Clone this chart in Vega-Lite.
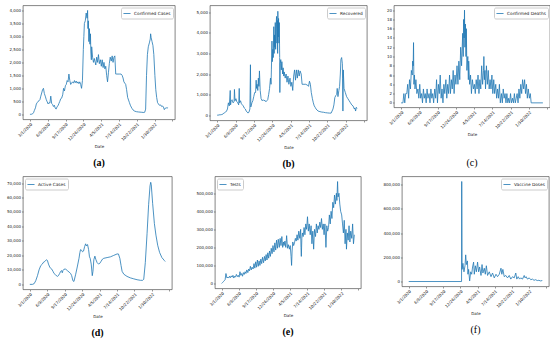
{
"$schema": "https://vega.github.io/schema/vega-lite/v6.json",
"padding": {"left": 0, "top": 4.5, "right": 0, "bottom": 0},
"config": {
  "font": "DejaVu Sans",
  "view": {"stroke": "#333", "strokeWidth": 0.6},
  "axis": {"grid": false, "domain": false, "tickSize": 1.5, "tickWidth": 0.5, "tickColor": "#333", "labelFontSize": 4, "labelColor": "#222", "labelPadding": 1, "titleFontSize": 4, "titleFontWeight": "normal", "titleColor": "#222", "labelFont": "DejaVu Sans", "titleFont": "DejaVu Sans", "labelOverlap": false, "labelFlush": false},
  "axisX": {"labelAngle": -45, "labelAlign": "right", "labelBaseline": "top", "titlePadding": 3},
  "legend": {"symbolType": "stroke", "symbolSize": 50, "symbolStrokeWidth": 1, "labelFontSize": 4.3, "labelColor": "#222", "padding": 2, "strokeColor": "#ccc", "fillColor": "white", "cornerRadius": 1.5, "offset": 2, "labelOffset": 3, "labelFont": "DejaVu Sans"},
  "title": {"font": "Liberation Serif", "fontSize": 10, "color": "black", "anchor": "middle", "frame": "group"},
  "line": {"strokeWidth": 0.8}
},
"datasets": {
"cases": [
{"date":"2020-03-01","value":0},{"date":"2020-03-06","value":0},{"date":"2020-03-11","value":5},{"date":"2020-03-16","value":20},{"date":"2020-03-21","value":60},{"date":"2020-03-26","value":150},
{"date":"2020-04-01","value":250},{"date":"2020-04-06","value":400},{"date":"2020-04-11","value":450},{"date":"2020-04-16","value":500},{"date":"2020-04-21","value":520},{"date":"2020-04-26","value":560},
{"date":"2020-05-01","value":700},{"date":"2020-05-06","value":820},{"date":"2020-05-11","value":950},{"date":"2020-05-16","value":1000},{"date":"2020-05-21","value":800},{"date":"2020-05-26","value":700},
{"date":"2020-06-01","value":560},{"date":"2020-06-06","value":480},{"date":"2020-06-11","value":400},{"date":"2020-06-16","value":450},{"date":"2020-06-21","value":430},{"date":"2020-06-26","value":700},
{"date":"2020-07-01","value":420},{"date":"2020-07-06","value":380},{"date":"2020-07-11","value":300},{"date":"2020-07-16","value":350},{"date":"2020-07-21","value":240},{"date":"2020-07-26","value":200},
{"date":"2020-08-01","value":300},{"date":"2020-08-06","value":330},{"date":"2020-08-11","value":420},{"date":"2020-08-16","value":500},{"date":"2020-08-21","value":600},{"date":"2020-08-26","value":620},
{"date":"2020-09-01","value":750},{"date":"2020-09-06","value":1000},{"date":"2020-09-11","value":900},{"date":"2020-09-16","value":1100},{"date":"2020-09-21","value":1150},{"date":"2020-09-26","value":1300},
{"date":"2020-10-01","value":1250},{"date":"2020-10-06","value":1550},{"date":"2020-10-11","value":1300},{"date":"2020-10-16","value":1150},{"date":"2020-10-21","value":1200},{"date":"2020-10-26","value":1250},
{"date":"2020-11-01","value":1200},{"date":"2020-11-06","value":1300},{"date":"2020-11-11","value":1220},{"date":"2020-11-16","value":1280},{"date":"2020-11-21","value":1200},{"date":"2020-11-26","value":1250},
{"date":"2020-12-01","value":1180},{"date":"2020-12-06","value":1250},{"date":"2020-12-11","value":1150},{"date":"2020-12-16","value":1000},{"date":"2020-12-21","value":1300},{"date":"2020-12-26","value":2500},{"date":"2020-12-29","value":3000},
{"date":"2021-01-01","value":3500},{"date":"2021-01-06","value":3600},{"date":"2021-01-11","value":3900},{"date":"2021-01-16","value":3700},{"date":"2021-01-19","value":4000},{"date":"2021-01-21","value":3300},{"date":"2021-01-23","value":3600},{"date":"2021-01-26","value":2800},{"date":"2021-01-29","value":3300},
{"date":"2021-02-01","value":2700},{"date":"2021-02-04","value":3100},{"date":"2021-02-06","value":2400},{"date":"2021-02-09","value":2100},{"date":"2021-02-11","value":2600},{"date":"2021-02-16","value":2200},{"date":"2021-02-21","value":2000},{"date":"2021-02-26","value":2150},
{"date":"2021-03-01","value":2050},{"date":"2021-03-06","value":1900},{"date":"2021-03-11","value":2200},{"date":"2021-03-16","value":2000},{"date":"2021-03-21","value":2300},{"date":"2021-03-26","value":1950},
{"date":"2021-04-01","value":2100},{"date":"2021-04-06","value":1850},{"date":"2021-04-11","value":2100},{"date":"2021-04-16","value":1800},{"date":"2021-04-21","value":2000},{"date":"2021-04-26","value":1750},
{"date":"2021-05-01","value":1850},{"date":"2021-05-06","value":1500},{"date":"2021-05-11","value":1250},{"date":"2021-05-16","value":1600},{"date":"2021-05-21","value":1950},{"date":"2021-05-26","value":2200},
{"date":"2021-06-01","value":2050},{"date":"2021-06-06","value":2250},{"date":"2021-06-11","value":2000},{"date":"2021-06-16","value":2200},{"date":"2021-06-21","value":2250},{"date":"2021-06-26","value":1550},
{"date":"2021-07-01","value":1550},{"date":"2021-07-16","value":1550},{"date":"2021-07-26","value":1550},
{"date":"2021-08-01","value":1500},{"date":"2021-08-06","value":1400},{"date":"2021-08-11","value":1250},{"date":"2021-08-16","value":1200},{"date":"2021-08-21","value":1150},{"date":"2021-08-26","value":950},
{"date":"2021-09-01","value":650},{"date":"2021-09-06","value":550},{"date":"2021-09-11","value":450},{"date":"2021-09-16","value":350},{"date":"2021-09-21","value":280},{"date":"2021-09-26","value":220},
{"date":"2021-10-01","value":170},{"date":"2021-10-11","value":120},{"date":"2021-10-21","value":100},{"date":"2021-11-01","value":90},{"date":"2021-11-16","value":80},
{"date":"2021-12-01","value":70},{"date":"2021-12-06","value":80},{"date":"2021-12-11","value":200},{"date":"2021-12-16","value":1500},{"date":"2021-12-21","value":2300},{"date":"2021-12-26","value":2600},
{"date":"2022-01-01","value":2750},{"date":"2022-01-06","value":2900},{"date":"2022-01-08","value":3100},{"date":"2022-01-11","value":2950},{"date":"2022-01-16","value":2800},{"date":"2022-01-21","value":2650},{"date":"2022-01-26","value":2300},
{"date":"2022-02-01","value":1500},{"date":"2022-02-06","value":950},{"date":"2022-02-11","value":650},{"date":"2022-02-16","value":450},{"date":"2022-02-21","value":400},{"date":"2022-02-26","value":350},
{"date":"2022-03-01","value":350},{"date":"2022-03-06","value":360},{"date":"2022-03-11","value":300},{"date":"2022-03-16","value":320},{"date":"2022-03-21","value":280},{"date":"2022-03-26","value":180},
{"date":"2022-04-01","value":240},{"date":"2022-04-06","value":250},{"date":"2022-04-11","value":240},{"date":"2022-04-16","value":260}
],
"recovered": [
{"date":"2020-03-01","value":0},{"date":"2020-03-06","value":0},{"date":"2020-03-11","value":10},{"date":"2020-03-16","value":20},{"date":"2020-03-21","value":20},{"date":"2020-03-26","value":30},
{"date":"2020-04-01","value":50},{"date":"2020-04-06","value":100},{"date":"2020-04-11","value":120},{"date":"2020-04-16","value":150},{"date":"2020-04-21","value":200},{"date":"2020-04-26","value":300},
{"date":"2020-05-01","value":600},{"date":"2020-05-06","value":450},{"date":"2020-05-11","value":1200},{"date":"2020-05-13","value":500},{"date":"2020-05-16","value":700},{"date":"2020-05-21","value":750},{"date":"2020-05-26","value":600},
{"date":"2020-06-01","value":650},{"date":"2020-06-03","value":1250},{"date":"2020-06-06","value":700},{"date":"2020-06-11","value":800},{"date":"2020-06-16","value":650},{"date":"2020-06-21","value":600},{"date":"2020-06-26","value":500},{"date":"2020-06-29","value":1300},
{"date":"2020-07-01","value":600},{"date":"2020-07-06","value":700},{"date":"2020-07-11","value":550},{"date":"2020-07-16","value":500},{"date":"2020-07-21","value":450},{"date":"2020-07-26","value":350},
{"date":"2020-08-01","value":300},{"date":"2020-08-06","value":200},{"date":"2020-08-11","value":150},{"date":"2020-08-16","value":100},{"date":"2020-08-21","value":150},{"date":"2020-08-26","value":300},{"date":"2020-08-29","value":2450},{"date":"2020-08-31","value":400},
{"date":"2020-09-06","value":600},{"date":"2020-09-11","value":700},{"date":"2020-09-16","value":900},{"date":"2020-09-21","value":1100},{"date":"2020-09-26","value":1100},{"date":"2020-09-29","value":1700},
{"date":"2020-10-01","value":1300},{"date":"2020-10-04","value":1500},{"date":"2020-10-08","value":1200},{"date":"2020-10-11","value":1800},{"date":"2020-10-14","value":1400},{"date":"2020-10-17","value":2150},{"date":"2020-10-21","value":1200},{"date":"2020-10-26","value":800},
{"date":"2020-11-01","value":700},{"date":"2020-11-06","value":750},{"date":"2020-11-11","value":700},{"date":"2020-11-16","value":720},{"date":"2020-11-21","value":650},{"date":"2020-11-26","value":700},
{"date":"2020-12-01","value":750},{"date":"2020-12-06","value":1000},{"date":"2020-12-11","value":1300},{"date":"2020-12-16","value":1800},{"date":"2020-12-19","value":1500},{"date":"2020-12-21","value":2200},{"date":"2020-12-24","value":3600},{"date":"2020-12-26","value":2600},{"date":"2020-12-29","value":3200},{"date":"2020-12-31","value":2800},
{"date":"2021-01-03","value":4300},{"date":"2021-01-05","value":3000},{"date":"2021-01-07","value":3900},{"date":"2021-01-09","value":3300},{"date":"2021-01-11","value":4500},{"date":"2021-01-13","value":3200},{"date":"2021-01-15","value":4200},{"date":"2021-01-18","value":4800},{"date":"2021-01-20","value":3500},{"date":"2021-01-22","value":4600},{"date":"2021-01-24","value":3000},{"date":"2021-01-25","value":5050},{"date":"2021-01-27","value":3800},{"date":"2021-01-29","value":4700},{"date":"2021-01-31","value":3500},
{"date":"2021-02-02","value":4500},{"date":"2021-02-04","value":2800},{"date":"2021-02-05","value":1100},{"date":"2021-02-07","value":2500},{"date":"2021-02-10","value":2700},{"date":"2021-02-13","value":2200},{"date":"2021-02-16","value":2600},{"date":"2021-02-20","value":2000},{"date":"2021-02-23","value":2300},{"date":"2021-02-26","value":1900},
{"date":"2021-03-01","value":2100},{"date":"2021-03-06","value":1800},{"date":"2021-03-11","value":2000},{"date":"2021-03-16","value":1600},{"date":"2021-03-21","value":1900},{"date":"2021-03-26","value":1500},
{"date":"2021-04-01","value":1800},{"date":"2021-04-06","value":1400},{"date":"2021-04-11","value":1600},{"date":"2021-04-16","value":1200},{"date":"2021-04-21","value":1900},{"date":"2021-04-26","value":2200},
{"date":"2021-05-01","value":1700},{"date":"2021-05-06","value":2200},{"date":"2021-05-11","value":1800},{"date":"2021-05-16","value":2200},{"date":"2021-05-21","value":1900},{"date":"2021-05-26","value":2150},
{"date":"2021-06-01","value":2000},{"date":"2021-06-06","value":1500},{"date":"2021-06-16","value":1500},{"date":"2021-06-26","value":1500},
{"date":"2021-07-06","value":1450},{"date":"2021-07-11","value":1400},{"date":"2021-07-16","value":1650},{"date":"2021-07-21","value":1500},{"date":"2021-07-26","value":1100},
{"date":"2021-08-01","value":800},{"date":"2021-08-06","value":600},{"date":"2021-08-11","value":450},{"date":"2021-08-16","value":380},{"date":"2021-08-21","value":300},{"date":"2021-08-26","value":250},
{"date":"2021-09-01","value":200},{"date":"2021-09-11","value":170},{"date":"2021-09-21","value":150},{"date":"2021-10-01","value":140},{"date":"2021-10-11","value":120},{"date":"2021-10-21","value":110},
{"date":"2021-11-01","value":100},{"date":"2021-11-11","value":100},{"date":"2021-11-21","value":300},{"date":"2021-11-26","value":500},
{"date":"2021-12-01","value":850},{"date":"2021-12-06","value":950},{"date":"2021-12-11","value":1000},{"date":"2021-12-14","value":1300},{"date":"2021-12-18","value":900},{"date":"2021-12-23","value":1200},{"date":"2021-12-27","value":1400},{"date":"2021-12-31","value":2000},
{"date":"2022-01-03","value":2700},{"date":"2022-01-07","value":2800},{"date":"2022-01-11","value":2500},{"date":"2022-01-12","value":1800},{"date":"2022-01-14","value":200},{"date":"2022-01-16","value":2200},{"date":"2022-01-20","value":1300},{"date":"2022-01-27","value":1100},
{"date":"2022-02-03","value":900},{"date":"2022-02-10","value":800},{"date":"2022-02-17","value":700},{"date":"2022-02-24","value":600},
{"date":"2022-03-03","value":500},{"date":"2022-03-10","value":450},{"date":"2022-03-17","value":300},{"date":"2022-03-20","value":350},{"date":"2022-03-24","value":200},{"date":"2022-03-28","value":380},{"date":"2022-04-01","value":330}
],
"deaths": [
{"date":"2020-03-01","value":0},{"date":"2020-03-06","value":0},{"date":"2020-03-11","value":0},{"date":"2020-03-16","value":2},{"date":"2020-03-21","value":0},{"date":"2020-03-26","value":2},
{"date":"2020-04-01","value":2},{"date":"2020-04-06","value":4},{"date":"2020-04-11","value":1},{"date":"2020-04-16","value":5},{"date":"2020-04-21","value":3},{"date":"2020-04-26","value":7},
{"date":"2020-05-01","value":6},{"date":"2020-05-03","value":9},{"date":"2020-05-06","value":8},{"date":"2020-05-08","value":13},{"date":"2020-05-10","value":4},{"date":"2020-05-13","value":6},{"date":"2020-05-16","value":3},{"date":"2020-05-21","value":5},{"date":"2020-05-26","value":2},
{"date":"2020-06-01","value":3},{"date":"2020-06-06","value":1},{"date":"2020-06-11","value":4},{"date":"2020-06-16","value":1},{"date":"2020-06-21","value":2},{"date":"2020-06-26","value":0},
{"date":"2020-07-01","value":3},{"date":"2020-07-06","value":1},{"date":"2020-07-11","value":2},{"date":"2020-07-16","value":0},{"date":"2020-07-21","value":3},{"date":"2020-07-26","value":1},
{"date":"2020-08-01","value":2},{"date":"2020-08-06","value":0},{"date":"2020-08-11","value":3},{"date":"2020-08-16","value":1},{"date":"2020-08-21","value":2},{"date":"2020-08-26","value":0},
{"date":"2020-09-01","value":3},{"date":"2020-09-06","value":1},{"date":"2020-09-11","value":5},{"date":"2020-09-16","value":0},{"date":"2020-09-21","value":4},{"date":"2020-09-26","value":2},
{"date":"2020-10-01","value":6},{"date":"2020-10-06","value":1},{"date":"2020-10-11","value":3},{"date":"2020-10-16","value":0},{"date":"2020-10-21","value":4},{"date":"2020-10-26","value":2},
{"date":"2020-11-01","value":5},{"date":"2020-11-06","value":1},{"date":"2020-11-11","value":4},{"date":"2020-11-16","value":2},{"date":"2020-11-21","value":6},{"date":"2020-11-26","value":2},
{"date":"2020-12-01","value":5},{"date":"2020-12-06","value":3},{"date":"2020-12-11","value":7},{"date":"2020-12-16","value":2},{"date":"2020-12-21","value":6},{"date":"2020-12-26","value":4},
{"date":"2021-01-01","value":8},{"date":"2021-01-06","value":4},{"date":"2021-01-11","value":9},{"date":"2021-01-16","value":5},{"date":"2021-01-21","value":12},{"date":"2021-01-26","value":8},
{"date":"2021-02-01","value":15},{"date":"2021-02-04","value":10},{"date":"2021-02-06","value":18},{"date":"2021-02-09","value":14},{"date":"2021-02-11","value":20},{"date":"2021-02-13","value":12},{"date":"2021-02-16","value":17},{"date":"2021-02-19","value":10},{"date":"2021-02-21","value":16},{"date":"2021-02-24","value":7},
{"date":"2021-03-01","value":10},{"date":"2021-03-04","value":5},{"date":"2021-03-06","value":9},{"date":"2021-03-11","value":4},{"date":"2021-03-16","value":6},{"date":"2021-03-21","value":2},{"date":"2021-03-26","value":5},
{"date":"2021-04-01","value":3},{"date":"2021-04-06","value":4},{"date":"2021-04-11","value":2},{"date":"2021-04-16","value":5},{"date":"2021-04-21","value":3},{"date":"2021-04-26","value":6},
{"date":"2021-05-01","value":2},{"date":"2021-05-06","value":5},{"date":"2021-05-11","value":3},{"date":"2021-05-16","value":8},{"date":"2021-05-21","value":4},{"date":"2021-05-26","value":7},{"date":"2021-05-28","value":10},{"date":"2021-05-31","value":5},
{"date":"2021-06-03","value":7},{"date":"2021-06-06","value":3},{"date":"2021-06-11","value":8},{"date":"2021-06-16","value":4},{"date":"2021-06-21","value":7},{"date":"2021-06-26","value":3},
{"date":"2021-07-01","value":5},{"date":"2021-07-06","value":3},{"date":"2021-07-11","value":6},{"date":"2021-07-16","value":2},{"date":"2021-07-21","value":5},{"date":"2021-07-26","value":2},
{"date":"2021-08-01","value":4},{"date":"2021-08-06","value":1},{"date":"2021-08-11","value":3},{"date":"2021-08-16","value":1},{"date":"2021-08-21","value":4},{"date":"2021-08-26","value":0},
{"date":"2021-09-01","value":2},{"date":"2021-09-06","value":0},{"date":"2021-09-11","value":3},{"date":"2021-09-16","value":1},{"date":"2021-09-21","value":2},{"date":"2021-09-26","value":0},
{"date":"2021-10-01","value":2},{"date":"2021-10-06","value":0},{"date":"2021-10-11","value":1},{"date":"2021-10-16","value":0},{"date":"2021-10-21","value":2},{"date":"2021-10-26","value":0},
{"date":"2021-11-01","value":1},{"date":"2021-11-06","value":0},{"date":"2021-11-11","value":2},{"date":"2021-11-16","value":0},{"date":"2021-11-21","value":1},{"date":"2021-11-26","value":2},
{"date":"2021-12-01","value":0},{"date":"2021-12-06","value":3},{"date":"2021-12-11","value":1},{"date":"2021-12-16","value":4},{"date":"2021-12-21","value":2},{"date":"2021-12-26","value":5},
{"date":"2022-01-01","value":3},{"date":"2022-01-06","value":5},{"date":"2022-01-11","value":2},{"date":"2022-01-16","value":4},{"date":"2022-01-21","value":1},{"date":"2022-01-26","value":3},
{"date":"2022-02-01","value":1},{"date":"2022-02-06","value":2},{"date":"2022-02-11","value":0},{"date":"2022-04-16","value":0}
],
"active": [
{"date":"2020-03-01","value":0},{"date":"2020-03-16","value":0},{"date":"2020-03-26","value":500},{"date":"2020-04-04","value":2500},{"date":"2020-04-14","value":6000},{"date":"2020-04-23","value":10000},
{"date":"2020-05-03","value":13000},{"date":"2020-05-12","value":14000},{"date":"2020-05-16","value":15000},{"date":"2020-05-22","value":15500},{"date":"2020-05-28","value":16000},
{"date":"2020-06-04","value":17000},{"date":"2020-06-10","value":16500},{"date":"2020-06-16","value":14000},{"date":"2020-06-23","value":12000},{"date":"2020-06-29","value":11000},
{"date":"2020-07-05","value":10500},{"date":"2020-07-12","value":9000},{"date":"2020-07-18","value":7500},{"date":"2020-07-27","value":6500},
{"date":"2020-08-06","value":5500},{"date":"2020-08-12","value":6000},{"date":"2020-08-19","value":7500},{"date":"2020-08-25","value":9000},{"date":"2020-08-31","value":9500},
{"date":"2020-09-03","value":8000},{"date":"2020-09-07","value":9500},{"date":"2020-09-13","value":10500},{"date":"2020-09-23","value":10500},
{"date":"2020-10-02","value":9500},{"date":"2020-10-12","value":8500},{"date":"2020-10-21","value":7500},{"date":"2020-10-27","value":6000},
{"date":"2020-11-03","value":2500},{"date":"2020-11-09","value":2000},{"date":"2020-11-19","value":7000},{"date":"2020-11-28","value":12000},
{"date":"2020-12-08","value":18000},{"date":"2020-12-13","value":22000},{"date":"2020-12-17","value":24000},{"date":"2020-12-23","value":23500},{"date":"2020-12-28","value":22500},
{"date":"2021-01-03","value":23000},{"date":"2021-01-09","value":26000},{"date":"2021-01-15","value":28000},{"date":"2021-01-20","value":26500},{"date":"2021-01-26","value":27500},
{"date":"2021-02-01","value":24000},{"date":"2021-02-06","value":19000},{"date":"2021-02-10","value":18000},{"date":"2021-02-16","value":14000},{"date":"2021-02-22","value":6000},{"date":"2021-02-26","value":9000},
{"date":"2021-03-03","value":17000},{"date":"2021-03-09","value":19500},{"date":"2021-03-15","value":17000},{"date":"2021-03-22","value":15000},{"date":"2021-03-30","value":14000},
{"date":"2021-04-06","value":14500},{"date":"2021-04-14","value":16000},{"date":"2021-04-22","value":17500},{"date":"2021-04-29","value":18000},
{"date":"2021-05-18","value":18500},{"date":"2021-06-06","value":19000},{"date":"2021-06-25","value":20000},{"date":"2021-07-14","value":21000},{"date":"2021-07-22","value":21000},{"date":"2021-07-30","value":18000},
{"date":"2021-08-06","value":13000},{"date":"2021-08-12","value":9000},{"date":"2021-08-22","value":7000},{"date":"2021-09-09","value":5500},{"date":"2021-09-28","value":4500},
{"date":"2021-10-18","value":3800},{"date":"2021-11-06","value":3200},{"date":"2021-11-25","value":2800},{"date":"2021-12-08","value":2800},{"date":"2021-12-14","value":3500},{"date":"2021-12-23","value":15000},
{"date":"2022-01-02","value":35000},{"date":"2022-01-11","value":55000},{"date":"2022-01-19","value":68000},{"date":"2022-01-23","value":70500},{"date":"2022-01-26","value":69000},
{"date":"2022-02-03","value":56000},{"date":"2022-02-13","value":42000},{"date":"2022-02-22","value":34000},{"date":"2022-03-04","value":27000},{"date":"2022-03-15","value":22000},{"date":"2022-03-28","value":18500},{"date":"2022-04-11","value":16500},{"date":"2022-04-16","value":15800}
],
"tests": [
{"date":"2020-03-01","value":0},{"date":"2020-03-06","value":5000},{"date":"2020-03-11","value":10000},{"date":"2020-03-16","value":15000},{"date":"2020-03-21","value":20000},{"date":"2020-03-26","value":55000},
{"date":"2020-04-01","value":30000},{"date":"2020-04-06","value":35000},{"date":"2020-04-11","value":30000},{"date":"2020-04-16","value":40000},{"date":"2020-04-21","value":32000},{"date":"2020-04-26","value":42000},
{"date":"2020-05-01","value":35000},{"date":"2020-05-06","value":45000},{"date":"2020-05-11","value":30000},{"date":"2020-05-16","value":40000},{"date":"2020-05-21","value":35000},{"date":"2020-05-26","value":50000},
{"date":"2020-06-01","value":38000},{"date":"2020-06-06","value":45000},{"date":"2020-06-11","value":35000},{"date":"2020-06-16","value":65000},{"date":"2020-06-21","value":45000},{"date":"2020-06-26","value":55000},
{"date":"2020-07-01","value":40000},{"date":"2020-07-06","value":60000},{"date":"2020-07-11","value":50000},{"date":"2020-07-16","value":65000},{"date":"2020-07-21","value":55000},{"date":"2020-07-26","value":75000},
{"date":"2020-08-01","value":60000},{"date":"2020-08-06","value":80000},{"date":"2020-08-11","value":70000},{"date":"2020-08-16","value":95000},{"date":"2020-08-21","value":75000},{"date":"2020-08-26","value":90000},
{"date":"2020-09-01","value":80000},{"date":"2020-09-06","value":110000},{"date":"2020-09-11","value":85000},{"date":"2020-09-16","value":120000},{"date":"2020-09-21","value":90000},{"date":"2020-09-26","value":130000},
{"date":"2020-10-01","value":95000},{"date":"2020-10-06","value":125000},{"date":"2020-10-11","value":100000},{"date":"2020-10-16","value":135000},{"date":"2020-10-21","value":110000},{"date":"2020-10-26","value":145000},
{"date":"2020-11-01","value":115000},{"date":"2020-11-06","value":150000},{"date":"2020-11-11","value":125000},{"date":"2020-11-16","value":160000},{"date":"2020-11-21","value":130000},{"date":"2020-11-26","value":170000},
{"date":"2020-12-01","value":140000},{"date":"2020-12-06","value":180000},{"date":"2020-12-11","value":150000},{"date":"2020-12-16","value":195000},{"date":"2020-12-21","value":165000},{"date":"2020-12-26","value":210000},
{"date":"2021-01-01","value":175000},{"date":"2021-01-06","value":225000},{"date":"2021-01-11","value":185000},{"date":"2021-01-16","value":240000},{"date":"2021-01-21","value":195000},{"date":"2021-01-26","value":245000},
{"date":"2021-02-01","value":200000},{"date":"2021-02-06","value":250000},{"date":"2021-02-11","value":210000},{"date":"2021-02-16","value":260000},{"date":"2021-02-21","value":200000},{"date":"2021-02-26","value":230000},
{"date":"2021-03-01","value":210000},{"date":"2021-03-06","value":235000},{"date":"2021-03-11","value":200000},{"date":"2021-03-16","value":265000},{"date":"2021-03-21","value":195000},{"date":"2021-03-26","value":215000},
{"date":"2021-04-01","value":190000},{"date":"2021-04-06","value":210000},{"date":"2021-04-11","value":150000},{"date":"2021-04-14","value":100000},{"date":"2021-04-17","value":180000},{"date":"2021-04-21","value":230000},{"date":"2021-04-26","value":210000},
{"date":"2021-05-01","value":225000},{"date":"2021-05-06","value":250000},{"date":"2021-05-11","value":235000},{"date":"2021-05-16","value":270000},{"date":"2021-05-21","value":240000},{"date":"2021-05-26","value":290000},
{"date":"2021-06-01","value":250000},{"date":"2021-06-06","value":300000},{"date":"2021-06-08","value":200000},{"date":"2021-06-10","value":150000},{"date":"2021-06-13","value":250000},{"date":"2021-06-16","value":280000},{"date":"2021-06-21","value":260000},{"date":"2021-06-26","value":310000},
{"date":"2021-07-01","value":270000},{"date":"2021-07-06","value":330000},{"date":"2021-07-11","value":300000},{"date":"2021-07-16","value":370000},{"date":"2021-07-21","value":290000},{"date":"2021-07-26","value":330000},
{"date":"2021-08-01","value":270000},{"date":"2021-08-06","value":320000},{"date":"2021-08-11","value":220000},{"date":"2021-08-16","value":290000},{"date":"2021-08-21","value":190000},{"date":"2021-08-26","value":300000},
{"date":"2021-09-01","value":260000},{"date":"2021-09-06","value":330000},{"date":"2021-09-11","value":280000},{"date":"2021-09-16","value":320000},{"date":"2021-09-21","value":300000},{"date":"2021-09-26","value":340000},
{"date":"2021-10-01","value":310000},{"date":"2021-10-06","value":360000},{"date":"2021-10-11","value":300000},{"date":"2021-10-16","value":330000},{"date":"2021-10-21","value":270000},{"date":"2021-10-26","value":330000},
{"date":"2021-11-01","value":200000},{"date":"2021-11-06","value":320000},{"date":"2021-11-11","value":290000},{"date":"2021-11-16","value":310000},{"date":"2021-11-21","value":380000},{"date":"2021-11-26","value":330000},
{"date":"2021-12-01","value":400000},{"date":"2021-12-06","value":360000},{"date":"2021-12-11","value":450000},{"date":"2021-12-16","value":420000},{"date":"2021-12-21","value":490000},{"date":"2021-12-26","value":440000},
{"date":"2022-01-01","value":500000},{"date":"2022-01-04","value":460000},{"date":"2022-01-08","value":565000},{"date":"2022-01-11","value":480000},{"date":"2022-01-16","value":500000},{"date":"2022-01-21","value":440000},{"date":"2022-01-26","value":400000},
{"date":"2022-02-01","value":380000},{"date":"2022-02-06","value":330000},{"date":"2022-02-11","value":280000},{"date":"2022-02-16","value":350000},{"date":"2022-02-21","value":220000},{"date":"2022-02-26","value":300000},
{"date":"2022-03-01","value":190000},{"date":"2022-03-06","value":280000},{"date":"2022-03-11","value":240000},{"date":"2022-03-16","value":320000},{"date":"2022-03-21","value":230000},{"date":"2022-03-26","value":290000},
{"date":"2022-04-01","value":250000},{"date":"2022-04-06","value":330000},{"date":"2022-04-11","value":220000},{"date":"2022-04-16","value":270000}
],
"vaccine": [
{"date":"2020-03-01","value":0},{"date":"2021-01-02","value":0},{"date":"2021-01-03","value":825000},{"date":"2021-01-05","value":100000},{"date":"2021-01-10","value":150000},{"date":"2021-01-16","value":80000},{"date":"2021-01-22","value":130000},{"date":"2021-01-26","value":220000},{"date":"2021-01-30","value":140000},
{"date":"2021-02-05","value":170000},{"date":"2021-02-08","value":60000},{"date":"2021-02-12","value":100000},{"date":"2021-02-18","value":5000},{"date":"2021-02-24","value":80000},
{"date":"2021-03-02","value":60000},{"date":"2021-03-07","value":120000},{"date":"2021-03-13","value":160000},{"date":"2021-03-17","value":60000},{"date":"2021-03-23","value":130000},{"date":"2021-03-29","value":80000},
{"date":"2021-04-05","value":160000},{"date":"2021-04-11","value":80000},{"date":"2021-04-17","value":120000},{"date":"2021-04-25","value":50000},
{"date":"2021-05-01","value":140000},{"date":"2021-05-06","value":70000},{"date":"2021-05-14","value":110000},{"date":"2021-05-20","value":60000},{"date":"2021-05-26","value":130000},
{"date":"2021-06-02","value":50000},{"date":"2021-06-12","value":80000},{"date":"2021-06-22","value":40000},{"date":"2021-07-01","value":70000},{"date":"2021-07-11","value":30000},{"date":"2021-07-21","value":60000},{"date":"2021-07-30","value":40000},
{"date":"2021-08-09","value":60000},{"date":"2021-08-19","value":110000},{"date":"2021-08-24","value":60000},{"date":"2021-08-30","value":100000},
{"date":"2021-09-07","value":40000},{"date":"2021-09-16","value":50000},{"date":"2021-09-26","value":30000},{"date":"2021-10-06","value":50000},{"date":"2021-10-15","value":20000},{"date":"2021-10-25","value":40000},
{"date":"2021-11-04","value":30000},{"date":"2021-11-13","value":70000},{"date":"2021-11-19","value":20000},{"date":"2021-11-27","value":40000},{"date":"2021-12-05","value":20000},{"date":"2021-12-12","value":30000},{"date":"2021-12-22","value":20000},
{"date":"2022-01-01","value":50000},{"date":"2022-01-06","value":30000},{"date":"2022-01-12","value":40000},{"date":"2022-01-20","value":20000},{"date":"2022-01-30","value":30000},
{"date":"2022-02-08","value":15000},{"date":"2022-02-18","value":20000},{"date":"2022-02-27","value":10000},{"date":"2022-03-08","value":15000},{"date":"2022-03-18","value":8000},{"date":"2022-03-27","value":10000},{"date":"2022-04-06","value":5000},{"date":"2022-04-16","value":8000}
]
},
"vconcat": [
{"hconcat": [
 {"width": 152, "height": 114, "data": {"name": "cases"}, "mark": {"type": "line"},
  "encoding": {
   "x": {"field": "date", "type": "temporal", "scale": {"type": "utc", "domain": [{"year":2020,"month":1,"date":22,"utc":true},{"year":2022,"month":5,"date":25,"utc":true}]}, "axis": {"title": "Date", "values": [{"year":2020,"month":3,"date":1,"utc":true},{"year":2020,"month":6,"date":9,"utc":true},{"year":2020,"month":9,"date":17,"utc":true},{"year":2020,"month":12,"date":26,"utc":true},{"year":2021,"month":4,"date":5,"utc":true},{"year":2021,"month":7,"date":14,"utc":true},{"year":2021,"month":10,"date":22,"utc":true},{"year":2022,"month":1,"date":30,"utc":true},{"year":2022,"month":5,"date":10,"utc":true}], "labelExpr": "datum.value > utc(2022, 2, 1) ? '' : utcFormat(datum.value, '%-m/%-d/%Y')"}},
   "y": {"field": "value", "type": "quantitative", "scale": {"domain": [-200, 4190], "nice": false, "zero": false}, "axis": {"title": null, "values": [0,500,1000,1500,2000,2500,3000,3500,4000], "format": ",.0f", "minExtent": 21.7, "maxExtent": 21.7}},
   "color": {"datum": "Confirmed Cases", "scale": {"range": ["#1f77b4"]}, "legend": {"title": null, "orient": "top-right"}}
  },
  "title": {"text": "(a)", "orient": "bottom", "fontWeight": "bold", "offset": 10}},
 {"width": 157, "height": 115, "data": {"name": "recovered"}, "mark": {"type": "line"},
  "encoding": {
   "x": {"field": "date", "type": "temporal", "scale": {"type": "utc", "domain": [{"year":2020,"month":1,"date":22,"utc":true},{"year":2022,"month":5,"date":25,"utc":true}]}, "axis": {"title": "Date", "values": [{"year":2020,"month":3,"date":1,"utc":true},{"year":2020,"month":6,"date":9,"utc":true},{"year":2020,"month":9,"date":17,"utc":true},{"year":2020,"month":12,"date":26,"utc":true},{"year":2021,"month":4,"date":5,"utc":true},{"year":2021,"month":7,"date":14,"utc":true},{"year":2021,"month":10,"date":22,"utc":true},{"year":2022,"month":1,"date":30,"utc":true},{"year":2022,"month":5,"date":10,"utc":true}], "labelExpr": "datum.value > utc(2022, 2, 1) ? '' : utcFormat(datum.value, '%-m/%-d/%Y')"}},
   "y": {"field": "value", "type": "quantitative", "scale": {"domain": [-260, 5330], "nice": false, "zero": false}, "axis": {"title": null, "values": [0,1000,2000,3000,4000,5000], "format": ",.0f", "minExtent": 29, "maxExtent": 29}},
   "color": {"datum": "Recovered", "scale": {"range": ["#1f77b4"]}, "legend": {"title": null, "orient": "top-right"}}
  },
  "title": {"text": "(b)", "orient": "bottom", "fontWeight": "bold", "offset": 10}},
 {"width": 156, "height": 102, "data": {"name": "deaths"}, "mark": {"type": "line"},
  "encoding": {
   "x": {"field": "date", "type": "temporal", "scale": {"type": "utc", "domain": [{"year":2020,"month":1,"date":22,"utc":true},{"year":2022,"month":5,"date":25,"utc":true}]}, "axis": {"title": "Date", "values": [{"year":2020,"month":3,"date":1,"utc":true},{"year":2020,"month":6,"date":9,"utc":true},{"year":2020,"month":9,"date":17,"utc":true},{"year":2020,"month":12,"date":26,"utc":true},{"year":2021,"month":4,"date":5,"utc":true},{"year":2021,"month":7,"date":14,"utc":true},{"year":2021,"month":10,"date":22,"utc":true},{"year":2022,"month":1,"date":30,"utc":true},{"year":2022,"month":5,"date":10,"utc":true}], "labelExpr": "datum.value > utc(2022, 2, 1) ? '' : utcFormat(datum.value, '%-m/%-d/%Y')"}},
   "y": {"field": "value", "type": "quantitative", "scale": {"domain": [-1, 21], "nice": false, "zero": false}, "axis": {"title": null, "values": [0,2,4,6,8,10,12,14,16,18,20], "format": ",.0f", "minExtent": 21.7, "maxExtent": 21.7}},
   "color": {"datum": "Confirmed Deaths", "scale": {"range": ["#1f77b4"]}, "legend": {"title": null, "orient": "top-right"}}
  },
  "title": {"text": "(c)", "orient": "bottom", "fontWeight": "normal", "offset": 22}}
 ],
 "spacing": 4,
 "resolve": {"scale": {"x": "independent", "y": "independent", "color": "independent"}, "legend": {"color": "independent"}}
},
{"hconcat": [
 {"width": 149, "height": 113, "data": {"name": "active"}, "mark": {"type": "line"},
  "encoding": {
   "x": {"field": "date", "type": "temporal", "scale": {"type": "utc", "domain": [{"year":2020,"month":1,"date":22,"utc":true},{"year":2022,"month":5,"date":25,"utc":true}]}, "axis": {"title": "Date", "values": [{"year":2020,"month":3,"date":1,"utc":true},{"year":2020,"month":6,"date":9,"utc":true},{"year":2020,"month":9,"date":17,"utc":true},{"year":2020,"month":12,"date":26,"utc":true},{"year":2021,"month":4,"date":5,"utc":true},{"year":2021,"month":7,"date":14,"utc":true},{"year":2021,"month":10,"date":22,"utc":true},{"year":2022,"month":1,"date":30,"utc":true},{"year":2022,"month":5,"date":10,"utc":true}], "labelExpr": "datum.value > utc(2022, 2, 1) ? '' : utcFormat(datum.value, '%-m/%-d/%Y')"}},
   "y": {"field": "value", "type": "quantitative", "scale": {"domain": [-3550, 74500], "nice": false, "zero": false}, "axis": {"title": null, "values": [0,10000,20000,30000,40000,50000,60000,70000], "format": ",.0f", "minExtent": 22.3, "maxExtent": 22.3}},
   "color": {"datum": "Active Cases", "scale": {"range": ["#1f77b4"]}, "legend": {"title": null, "orient": "top-left"}}
  },
  "title": {"text": "(d)", "orient": "bottom", "fontWeight": "bold", "offset": 10}},
 {"width": 146, "height": 112, "data": {"name": "tests"}, "mark": {"type": "line"},
  "encoding": {
   "x": {"field": "date", "type": "temporal", "scale": {"type": "utc", "domain": [{"year":2020,"month":1,"date":22,"utc":true},{"year":2022,"month":5,"date":25,"utc":true}]}, "axis": {"title": "Date", "values": [{"year":2020,"month":3,"date":1,"utc":true},{"year":2020,"month":6,"date":9,"utc":true},{"year":2020,"month":9,"date":17,"utc":true},{"year":2020,"month":12,"date":26,"utc":true},{"year":2021,"month":4,"date":5,"utc":true},{"year":2021,"month":7,"date":14,"utc":true},{"year":2021,"month":10,"date":22,"utc":true},{"year":2022,"month":1,"date":30,"utc":true},{"year":2022,"month":5,"date":10,"utc":true}], "labelExpr": "datum.value > utc(2022, 2, 1) ? '' : utcFormat(datum.value, '%-m/%-d/%Y')"}},
   "y": {"field": "value", "type": "quantitative", "scale": {"domain": [-28000, 593000], "nice": false, "zero": false}, "axis": {"title": null, "values": [0,100000,200000,300000,400000,500000], "format": ",.0f", "minExtent": 37.6, "maxExtent": 37.6}},
   "color": {"datum": "Tests", "scale": {"range": ["#1f77b4"]}, "legend": {"title": null, "orient": "top-left"}}
  },
  "title": {"text": "(e)", "orient": "bottom", "fontWeight": "bold", "offset": 10}},
 {"width": 147, "height": 110, "data": {"name": "vaccine"}, "mark": {"type": "line"},
  "encoding": {
   "x": {"field": "date", "type": "temporal", "scale": {"type": "utc", "domain": [{"year":2020,"month":1,"date":22,"utc":true},{"year":2022,"month":5,"date":25,"utc":true}]}, "axis": {"title": "Date", "values": [{"year":2020,"month":3,"date":1,"utc":true},{"year":2020,"month":6,"date":9,"utc":true},{"year":2020,"month":9,"date":17,"utc":true},{"year":2020,"month":12,"date":26,"utc":true},{"year":2021,"month":4,"date":5,"utc":true},{"year":2021,"month":7,"date":14,"utc":true},{"year":2021,"month":10,"date":22,"utc":true},{"year":2022,"month":1,"date":30,"utc":true},{"year":2022,"month":5,"date":10,"utc":true}], "labelExpr": "datum.value > utc(2022, 2, 1) ? '' : utcFormat(datum.value, '%-m/%-d/%Y')"}},
   "y": {"field": "value", "type": "quantitative", "scale": {"domain": [-41000, 866000], "nice": false, "zero": false}, "axis": {"title": null, "values": [0,200000,400000,600000,800000], "format": ",.0f", "minExtent": 35.3, "maxExtent": 35.3}},
   "color": {"datum": "Vaccine Doses", "scale": {"range": ["#1f77b4"]}, "legend": {"title": null, "orient": "top-right"}}
  },
  "title": {"text": "(f)", "orient": "bottom", "fontWeight": "normal", "offset": 10}}
 ],
 "spacing": 4,
 "resolve": {"scale": {"x": "independent", "y": "independent", "color": "independent"}, "legend": {"color": "independent"}}
}
],
"spacing": 6
}
